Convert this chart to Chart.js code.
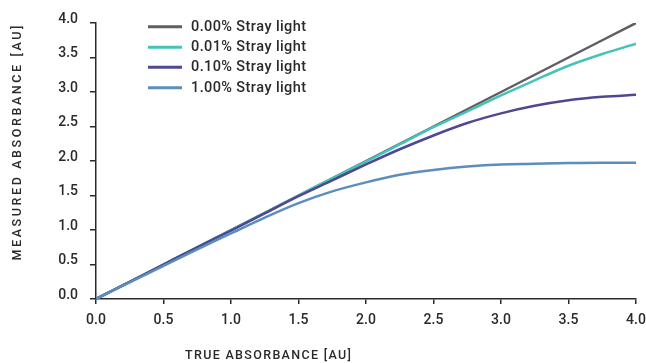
<!DOCTYPE html>
<html>
<head>
<meta charset="utf-8">
<script src="https://cdn.jsdelivr.net/npm/chart.js@4/dist/chart.umd.min.js"></script>
<style>
html,body{margin:0;padding:0;background:#fff;}
#wrap{width:646px;height:363px;position:relative;}
</style>
</head>
<body>
<div id="wrap"><canvas id="c" width="646" height="363"></canvas></div>
<script>
const trueAbs = [0,0.25,0.5,0.75,1.0,1.25,1.5,1.75,2.0,2.25,2.5,2.75,3.0,3.25,3.5,3.75,4.0];
const stray000 = [0,0.25,0.5,0.75,1.0,1.25,1.5,1.75,2.0,2.25,2.5,2.75,3.0,3.25,3.5,3.75,4.0];
const stray001 = [0,0.25,0.5,0.75,1.0,1.25,1.5,1.75,1.99,2.24,2.49,2.72,2.95,3.17,3.38,3.55,3.70];
const stray010 = [0,0.25,0.5,0.75,0.99,1.24,1.49,1.72,1.95,2.17,2.37,2.55,2.69,2.80,2.88,2.93,2.96];
const stray100 = [0,0.24,0.48,0.72,0.95,1.18,1.39,1.56,1.69,1.80,1.87,1.92,1.95,1.96,1.97,1.975,1.975];
const seriesLabels = ['0.00% Stray light','0.01% Stray light','0.10% Stray light','1.00% Stray light'];
const xTitle = 'TRUE ABSORBANCE [AU]';
const yTitle = 'MEASURED ABSORBANCE [AU]';

const colors = ['#5e5e64','#45c3b9','#4e4893','#5b8ebd'];
const FONT = 'Roboto, "DejaVu Sans", sans-serif';
const TEXT = '#2a2a2e';

function pts(ys){ return trueAbs.map((x,i)=>({x:x,y:ys[i]})); }
const allSeries = [stray000, stray001, stray010, stray100];

const datasets = allSeries.map((s,i)=>({
  label: seriesLabels[i],
  data: pts(s),
  borderColor: colors[i],
  backgroundColor: colors[i],
  borderWidth: 2.5,
  pointRadius: 0,
  cubicInterpolationMode: 'monotone',
  order: 4 - i,
  fill: false
}));

function spacedText(ctx, text, cx, cy, targetW){
  const chars = [...text];
  let w = 0; const ws = chars.map(c=>{const m=ctx.measureText(c).width; w+=m; return m;});
  const sp = (targetW - w)/(chars.length-1);
  let x = cx - targetW/2;
  ctx.textAlign='left'; ctx.textBaseline='middle';
  chars.forEach((c,i)=>{ ctx.fillText(c,x,cy); x += ws[i]+sp; });
}

const extras = {
  id:'extras',
  afterDraw(chart){
    const ctx = chart.ctx;
    ctx.save();
    // legend
    ctx.font = '500 14.5px ' + FONT;
    const rows = [26.7,47.3,67.3,87.7];
    datasets.forEach((d,i)=>{
      ctx.strokeStyle = d.borderColor; ctx.lineWidth = 3;
      ctx.beginPath(); ctx.moveTo(148, rows[i]); ctx.lineTo(182, rows[i]); ctx.stroke();
      ctx.fillStyle = TEXT;
      spacedText(ctx, d.label, 191 + 115/2, rows[i]+0.5, 115);
    });
    // axis titles
    ctx.fillStyle = TEXT;
    ctx.font = '500 12.5px ' + FONT;
    spacedText(ctx, xTitle, 268, 356, 166);
    ctx.translate(18, 143);
    ctx.rotate(-Math.PI/2);
    spacedText(ctx, yTitle, 0, 0, 235);
    ctx.restore();
  }
};

new Chart(document.getElementById('c'), {
  type: 'line',
  data: { datasets },
  options: {
    responsive: false,
    animation: false,
    layout: { padding: { top: 23, right: 0, left: 0, bottom: 0 } },
    plugins: { legend: { display: false }, tooltip: { enabled: false } },
    scales: {
      x: {
        type: 'linear', min: 0, max: 4,
        ticks: { stepSize: 0.5, color: TEXT, font: { family: FONT, size: 14, weight: '500' }, padding: 8,
                 callback: v => v.toFixed(1), maxRotation: 0 },
        grid: { drawOnChartArea: false, drawTicks: true, tickLength: 5, color: '#2a2a2a', lineWidth: 1.5 },
        border: { color: '#2a2a2a', width: 1.5 },
        afterFit(s){ s.height = 64; s.paddingRight = 10; s.paddingLeft = 0; }
      },
      y: {
        type: 'linear', min: 0, max: 4,
        ticks: { stepSize: 0.5, color: TEXT, font: { family: FONT, size: 14, weight: '500' }, padding: 12,
                 labelOffset: -4, callback: v => v.toFixed(1) },
        grid: { drawOnChartArea: false, drawTicks: true, tickLength: 6, color: '#2a2a2a', lineWidth: 1.5 },
        border: { color: '#2a2a2a', width: 1.5 },
        afterFit(s){ s.width = 96; s.paddingTop = 0; s.paddingBottom = 0; }
      }
    }
  },
  plugins: [extras]
});
</script>
</body>
</html>
